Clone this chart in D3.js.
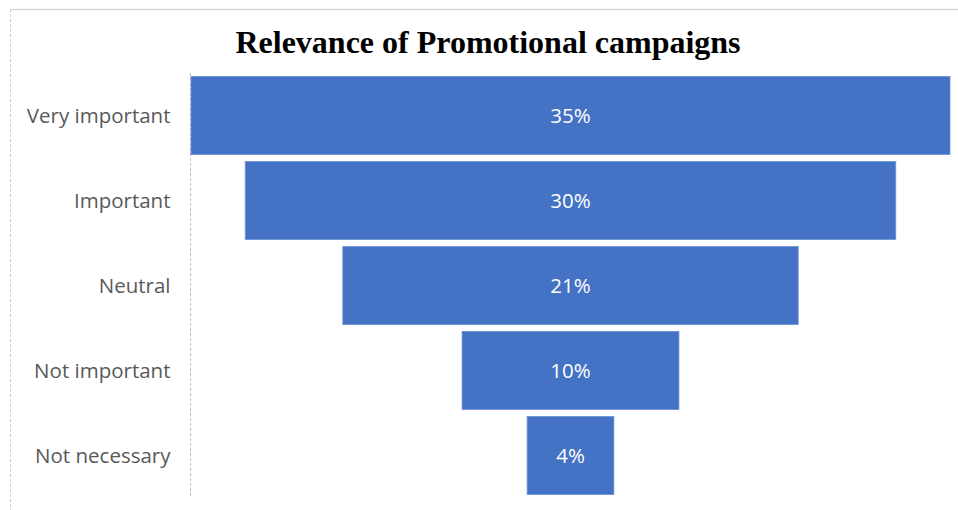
<!DOCTYPE html>
<html>
<head>
<meta charset="utf-8">
<script src="https://cdn.jsdelivr.net/npm/d3@7/dist/d3.min.js"></script>
<style>
  html, body { margin: 0; padding: 0; background: #fff; }
  svg { display: block; }
</style>
</head>
<body>
<svg id="chart" width="958" height="510"></svg>
<script>
// Survey answers, top of funnel first
const categories = ["Very important", "Important", "Neutral", "Not important", "Not necessary"];
const shares = [35, 30, 21, 10, 4];
const valueLabels = ["35%", "30%", "21%", "10%", "4%"];
const chartTitle = "Relevance of Promotional campaigns";

const svg = d3.select("#chart");
const W = 958, H = 510;

// chart area frame (top and left edges visible)
svg.append("line").attr("x1", 10).attr("x2", W).attr("y1", 9.5).attr("y2", 9.5)
  .attr("stroke", "#d9d9d9").attr("stroke-width", 1.5);
svg.append("line").attr("x1", 10.5).attr("x2", 10.5).attr("y1", 9).attr("y2", H)
  .attr("stroke", "#d0d0d0").attr("stroke-width", 1).attr("stroke-dasharray", "3,2");

// title
svg.append("text")
  .attr("x", 488).attr("y", 53)
  .attr("text-anchor", "middle")
  .attr("font-family", "'Liberation Serif', 'Times New Roman', serif")
  .attr("font-weight", "bold")
  .attr("font-size", 32)
  .attr("fill", "#000")
  .text(chartTitle);

const plotLeft = 191, plotRight = 950;
const center = (plotLeft + plotRight) / 2;

const y = d3.scaleBand()
  .domain(categories)
  .range([73, 498])
  .paddingInner(0.08)
  .paddingOuter(0.04);

// full width of the widest bar equals the max share
const w = d3.scaleLinear()
  .domain([0, d3.max(shares)])
  .range([0, plotRight - plotLeft]);

const data = categories.map((c, i) => ({ c, v: shares[i], label: valueLabels[i] }));

// vertical category axis
const yAxis = d3.axisLeft(y).tickSize(0).tickPadding(20);
const axisG = svg.append("g")
  .attr("transform", `translate(${plotLeft - 0.5},0)`)
  .call(yAxis);
axisG.select(".domain")
  .attr("stroke", "#bfbfbf")
  .attr("stroke-dasharray", "3,2")
  .attr("d", `M0,${y.range()[0]}V${y.range()[1]}`);
axisG.selectAll(".tick text")
  .attr("font-family", "'Open Sans', 'Noto Sans', sans-serif")
  .attr("font-size", 20.5)
  .attr("dy", "0.36em")
  .attr("fill", "#595959");

// funnel bars
svg.append("g").selectAll("rect")
  .data(data)
  .join("rect")
  .attr("x", d => center - w(d.v) / 2)
  .attr("y", d => y(d.c))
  .attr("width", d => w(d.v))
  .attr("height", y.bandwidth())
  .attr("fill", "#4472C4")
  .attr("stroke", "#6f93d6")
  .attr("stroke-width", 0.8);

// value labels
svg.append("g").selectAll("text")
  .data(data)
  .join("text")
  .attr("x", center)
  .attr("y", d => y(d.c) + y.bandwidth() / 2)
  .attr("dy", "0.36em")
  .attr("text-anchor", "middle")
  .attr("font-family", "'Open Sans', 'Noto Sans', sans-serif")
  .attr("font-size", 20.5)
  .attr("fill", "#ffffff")
  .text(d => d.label);
</script>
</body>
</html>
